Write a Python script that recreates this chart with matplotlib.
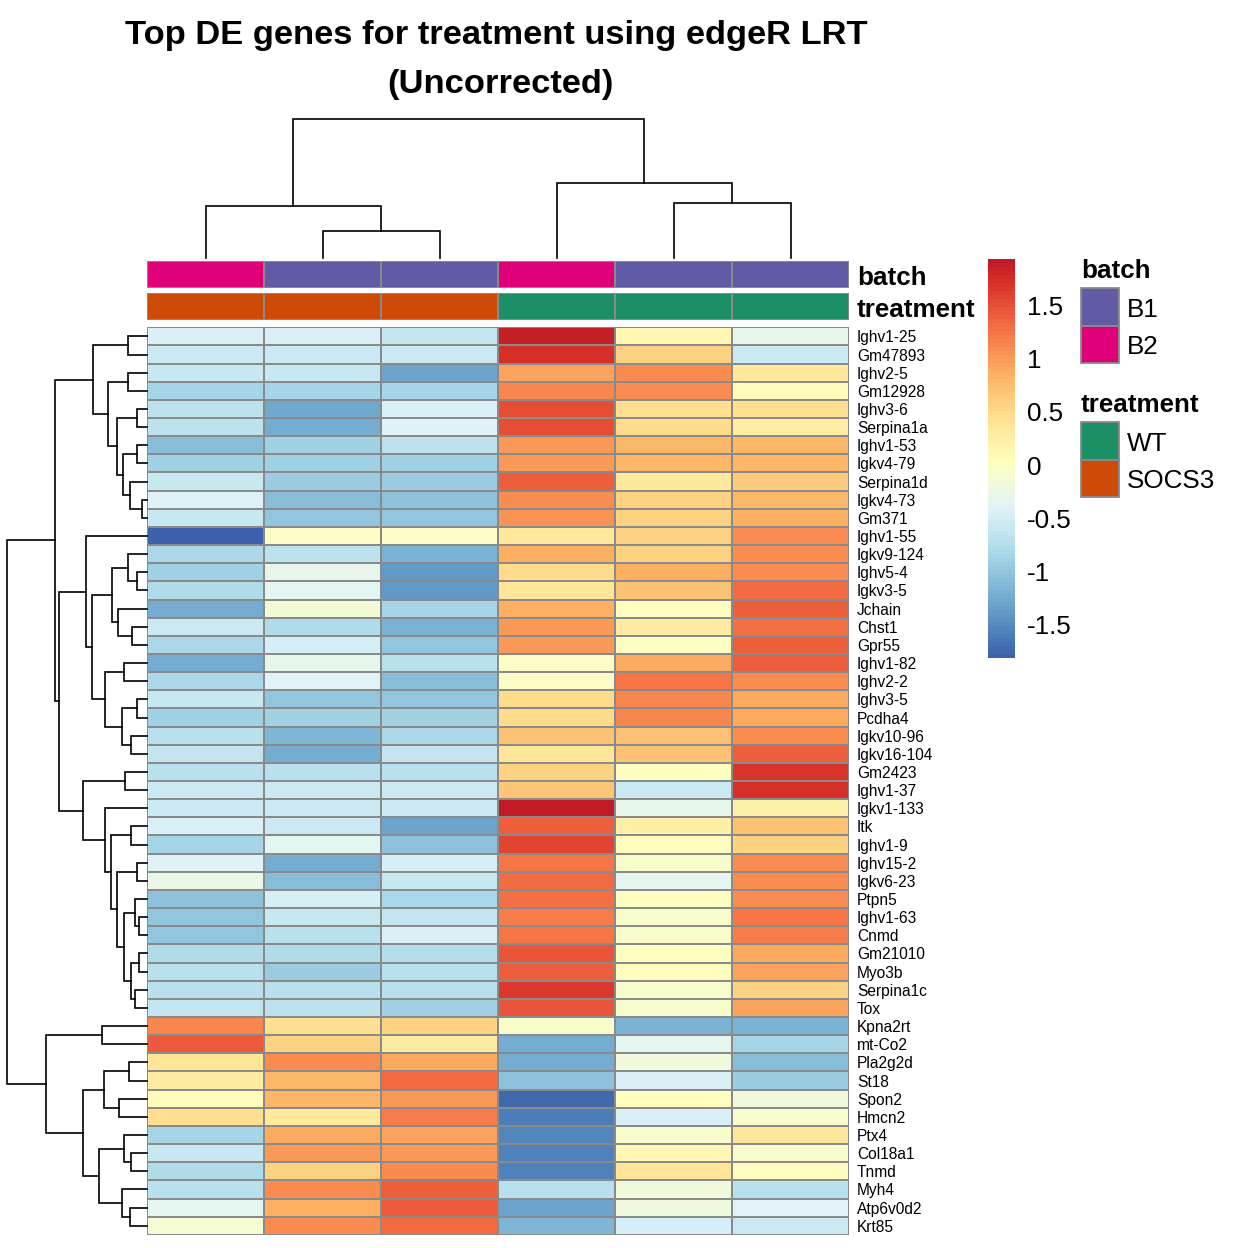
import numpy as np
import matplotlib
matplotlib.use("Agg")
import matplotlib.pyplot as plt
from matplotlib.colors import ListedColormap, Normalize
from matplotlib.cm import ScalarMappable
from matplotlib.patches import Rectangle

plt.rcParams['font.family'] = ['Liberation Sans', 'DejaVu Sans']

# gene labels, top to bottom (dendrogram order)
genes = ["Ighv1-25", "Gm47893", "Ighv2-5", "Gm12928", "Ighv3-6", "Serpina1a", "Ighv1-53",
         "Igkv4-79", "Serpina1d", "Igkv4-73", "Gm371", "Ighv1-55", "Igkv9-124", "Ighv5-4",
         "Igkv3-5", "Jchain", "Chst1", "Gpr55", "Ighv1-82", "Ighv2-2", "Ighv3-5", "Pcdha4",
         "Igkv10-96", "Igkv16-104", "Gm2423", "Ighv1-37", "Igkv1-133", "Itk", "Ighv1-9",
         "Ighv15-2", "Igkv6-23", "Ptpn5", "Ighv1-63", "Cnmd", "Gm21010", "Myo3b", "Serpina1c",
         "Tox", "Kpna2rt", "mt-Co2", "Pla2g2d", "St18", "Spon2", "Hmcn2", "Ptx4", "Col18a1",
         "Tnmd", "Myh4", "Atp6v0d2", "Krt85"]

# row z-scores, 6 samples per gene
zscores = [
    [-0.45, -0.45, -0.65, 1.90, 0.15, -0.30],
    [-0.55, -0.55, -0.55, 1.72, 0.55, -0.55],
    [-0.60, -0.60, -1.30, 0.95, 1.10, 0.35],
    [-0.85, -0.85, -0.85, 1.12, 1.10, 0.08],
    [-0.68, -1.28, -0.45, 1.50, 0.45, 0.45],
    [-0.68, -1.22, -0.40, 1.52, 0.48, 0.25],
    [-1.10, -0.90, -0.68, 1.02, 0.80, 0.78],
    [-0.90, -0.90, -0.90, 1.02, 0.80, 0.78],
    [-0.60, -0.95, -0.95, 1.38, 0.35, 0.65],
    [-0.40, -1.10, -1.05, 1.10, 0.55, 0.80],
    [-0.60, -1.00, -1.00, 1.05, 0.58, 0.85],
    [-1.82, -0.05, -0.05, 0.35, 0.55, 1.10],
    [-0.82, -0.68, -1.20, 0.85, 0.55, 1.10],
    [-0.90, -0.30, -1.38, 0.50, 0.85, 1.10],
    [-0.80, -0.35, -1.38, 0.38, 0.72, 1.32],
    [-1.22, -0.15, -0.87, 0.88, 0.05, 1.40],
    [-0.55, -0.80, -1.20, 1.00, 0.30, 1.30],
    [-0.82, -0.50, -1.00, 1.00, 0.02, 1.40],
    [-1.22, -0.30, -0.72, -0.05, 0.90, 1.40],
    [-0.82, -0.38, -1.10, -0.05, 1.25, 1.10],
    [-0.60, -1.00, -1.00, 0.50, 1.12, 0.92],
    [-0.90, -0.90, -0.90, 0.50, 1.15, 0.92],
    [-0.72, -1.15, -0.82, 0.70, 0.70, 1.10],
    [-0.65, -1.22, -0.65, 0.38, 0.70, 1.40],
    [-0.72, -0.72, -0.72, 0.58, 0.03, 1.68],
    [-0.55, -0.55, -0.55, 0.68, -0.55, 1.75],
    [-0.55, -0.55, -0.55, 1.92, -0.30, 0.22],
    [-0.45, -0.55, -1.30, 1.40, 0.22, 0.70],
    [-0.87, -0.35, -1.05, 1.58, 0.05, 0.58],
    [-0.40, -1.22, -0.48, 1.25, -0.07, 1.10],
    [-0.25, -1.10, -0.60, 1.32, -0.35, 1.08],
    [-1.05, -0.48, -0.82, 1.28, 0.02, 1.08],
    [-1.00, -0.60, -0.65, 1.22, -0.07, 1.25],
    [-1.00, -0.72, -0.45, 1.25, -0.07, 1.22],
    [-0.80, -0.80, -0.75, 1.48, 0.05, 0.92],
    [-0.72, -0.95, -0.72, 1.40, 0.05, 0.95],
    [-0.72, -0.72, -0.72, 1.65, -0.07, 0.58],
    [-0.65, -0.68, -0.90, 1.48, -0.07, 0.95],
    [1.12, 0.45, 0.55, -0.07, -1.20, -1.20],
    [1.45, 0.55, 0.30, -1.22, -0.35, -0.87],
    [0.38, 1.08, 0.92, -1.22, -0.20, -1.10],
    [0.30, 0.80, 1.32, -1.05, -0.45, -0.95],
    [0.08, 0.80, 1.00, -1.78, 0.05, -0.20],
    [0.45, 0.35, 1.22, -1.62, -0.45, -0.07],
    [-0.87, 0.90, 0.95, -1.55, -0.07, 0.38],
    [-0.60, 1.00, 1.00, -1.58, 0.10, -0.07],
    [-0.80, 0.58, 1.08, -1.58, 0.38, 0.05],
    [-0.72, 1.08, 1.40, -0.72, -0.20, -0.72],
    [-0.35, 0.88, 1.45, -1.30, -0.20, -0.38],
    [-0.12, 1.08, 1.32, -1.15, -0.50, -0.55],
]

# sample annotations
batch = ["B2", "B1", "B1", "B2", "B1", "B1"]
treatment = ["SOCS3", "SOCS3", "SOCS3", "WT", "WT", "WT"]
batch_levels = ["B1", "B2"]
batch_colors = ["#615BA6", "#E0007A"]
treatment_levels = ["WT", "SOCS3"]
treatment_colors = ["#1C8F66", "#CE4A07"]

# dendrograms as (height, left, right), leaves are positions
col_tree = (139.3, (52.6, 0, (27.3, 1, 2)), (75.6, 3, (55.6, 4, 5)))

top_block = (54, (18.4, 0, 1), (39, (18.4, 2, 3), (30, (9.4, 4, 5),
             (24, (9.4, 6, 7), (16.7, 8, (5, 9, 10))))))
mid_a = (60.7, 11, (54.7,
                    (35, (18.4, 12, (10, 13, 14)), (28.4, 15, (15, 16, 17))),
                    (41.7, (22.4, 18, 19), (24.4, (10, 20, 21), (15.7, 22, 23)))))
mid_b = (63.4, (21.4, 24, 25),
         (41.7, 26, (36, (16, 27, 28),
                     (30, (10, 29, 30),
                      (22.7, (11.7, 31, (7.4, 32, 33)),
                       (16, (7.4, 34, 35), (11.7, 36, 37)))))))
low_block = (101, (45, 38, 39),
             (63.4, (42.4, (17.7, 40, 41), (27.4, 42, 43)),
              (47.7, (22.4, 44, (15.7, 45, 46)), (25, 47, (16.7, 48, 49)))))
row_tree = (140, (91.4, top_block, (88, mid_a, mid_b)), low_block)

zmin, zmax = -1.82, 1.94

W = H = 1248
fig = plt.figure(figsize=(W / 100, H / 100), dpi=100)


def rect(x0, y0, x1, y1):
    return [x0 / W, 1 - y1 / H, (x1 - x0) / W, (y1 - y0) / H]


def draw_tree(ax, node, horizontal):
    if isinstance(node, int):
        return node + 0.5, 0.0
    h, left, right = node
    p1, h1 = draw_tree(ax, left, horizontal)
    p2, h2 = draw_tree(ax, right, horizontal)
    hs = [h1, h, h, h2]
    ps = [p1, p1, p2, p2]
    if horizontal:
        ax.plot(hs, ps, color="black", lw=1.2, clip_on=False, solid_joinstyle="miter")
    else:
        ax.plot(ps, hs, color="black", lw=1.2, clip_on=False, solid_joinstyle="miter")
    return (p1 + p2) / 2, h


cmap = ListedColormap(plt.get_cmap("RdYlBu_r")(np.linspace(0.07, 0.945, 100)))
norm = Normalize(zmin, zmax)
grid = "#8a8a8a"

# heatmap
ax = fig.add_axes(rect(147, 327.3, 849, 1234.8))
ax.pcolormesh(np.array(zscores), cmap=cmap, norm=norm, edgecolors=grid, linewidth=1.3)
ax.set_xlim(0, 6)
ax.set_ylim(len(genes), 0)
ax.set_xticks([])
ax.yaxis.tick_right()
ax.set_yticks(np.arange(len(genes)) + 0.5)
ax.set_yticklabels(genes, fontsize=11.2)
ax.tick_params(axis="y", length=0, pad=5.8)
for s in ax.spines.values():
    s.set_visible(False)

# annotation bars
ann = [("batch", batch, batch_levels, batch_colors, 261, 287.7),
       ("treatment", treatment, treatment_levels, treatment_colors, 293.3, 320)]
for name, vals, levels, cols, y0, y1 in ann:
    a = fig.add_axes(rect(147, y0, 849, y1))
    codes = np.array([[levels.index(v) for v in vals]])
    a.pcolormesh(codes, cmap=ListedColormap(cols), vmin=-0.5, vmax=len(cols) - 0.5,
                 edgecolors=grid, linewidth=1.3)
    a.set_xlim(0, 6)
    a.set_ylim(0, 1)
    a.axis("off")

# column dendrogram
axc = fig.add_axes(rect(147, 119, 849, 258.3))
draw_tree(axc, col_tree, False)
axc.set_xlim(0, 6)
axc.set_ylim(0, col_tree[0])
axc.axis("off")

# row dendrogram
axr = fig.add_axes(rect(6.7, 327.3, 146.7, 1234.8))
draw_tree(axr, row_tree, True)
axr.set_xlim(row_tree[0], 0)
axr.set_ylim(len(genes), 0)
axr.axis("off")

# colour key
cax = fig.add_axes(rect(988, 259, 1015, 658.3))
cb = fig.colorbar(ScalarMappable(norm=norm, cmap=cmap), cax=cax)
cb.outline.set_visible(False)
ticks = [-1.5, -1, -0.5, 0, 0.5, 1, 1.5]
cb.set_ticks(ticks)
cb.set_ticklabels([("%g" % t) for t in ticks])
cax.tick_params(length=0, labelsize=18.7, pad=8.6)

# overlay for text and legends, pixel coordinates
ov = fig.add_axes([0, 0, 1, 1])
ov.set_xlim(0, W)
ov.set_ylim(H, 0)
ov.axis("off")

ov.text(496, 44, "Top DE genes for treatment using edgeR LRT", fontsize=24.8,
        fontweight="bold", ha="center", va="baseline")
ov.text(500, 93.5, "(Uncorrected)", fontsize=24.8, fontweight="bold",
        ha="center", va="baseline")

ov.text(857, 285, "batch", fontsize=18.7, fontweight="bold", va="baseline")
ov.text(857, 316.7, "treatment", fontsize=18.7, fontweight="bold", va="baseline")

legend_blocks = [("batch", batch_levels, batch_colors, 278.3, 288),
                 ("treatment", treatment_levels, treatment_colors, 412.3, 422)]
for title, levels, cols, ty, by in legend_blocks:
    ov.text(1081, ty, title, fontsize=18.7, fontweight="bold", va="baseline")
    for i, (lev, c) in enumerate(zip(levels, cols)):
        y0 = by + i * 37.5
        ov.add_patch(Rectangle((1081, y0), 38, 37.5, facecolor=c, edgecolor=grid, lw=1.3))
        ov.text(1127, y0 + 18.75 + 10.2, lev, fontsize=18.7, va="baseline")

fig.savefig("out.png", dpi=100)
